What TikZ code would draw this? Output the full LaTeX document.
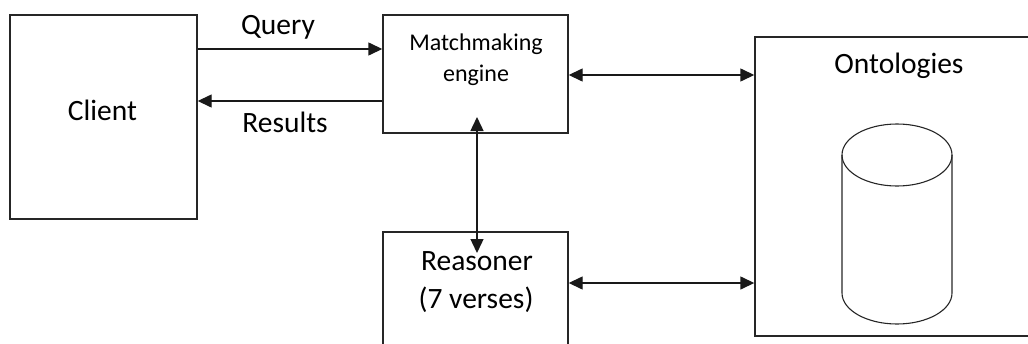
\documentclass[tikz,border=0pt]{standalone}
\usepackage{fontspec}
\setmainfont{Carlito}
\usetikzlibrary{arrows.meta}
\begin{document}
\begin{tikzpicture}[x=1pt,y=-1pt,
  box/.style={draw=black!85,line width=1.4pt,rectangle,inner sep=0pt},
  lbl/.style={anchor=base,inner sep=0pt,font=\fontsize{29.5}{30}\selectfont},
  small/.style={anchor=base,inner sep=0pt,font=\fontsize{24}{25}\selectfont},
  conn/.style={line width=1.4pt,draw=black!90,-{Triangle[length=14pt,width=13pt]}},
  conn2/.style={line width=1.4pt,draw=black!90,{Triangle[length=14pt,width=13pt]}-{Triangle[length=14pt,width=13pt]}}]
\useasboundingbox (0,0) rectangle (1028,343);
\clip (0,0) rectangle (1028,343);
% boxes
\node[box,minimum width=187pt,minimum height=204pt] (client) at (103.5,117) {};
\node[box,minimum width=185pt,minimum height=118pt] (match) at (475.5,74) {};
\node[box,minimum width=290pt,minimum height=299pt] (onto) at (900,186.5) {};
\node[box,minimum width=185pt,minimum height=130pt] (reason) at (475.5,297) {};
% texts
\node[lbl] (clientt) at (102.5,120) {Client};
\node[lbl] (query) at (278,34) {Query};
\node[lbl] (results) at (285,132) {Results};
\node[small] (mm1) at (476,50) {Matchmaking};
\node[small] (mm2) at (476,81) {engine};
\node[lbl] (ontot) at (899,73) {Ontologies};
\node[lbl] (re1) at (477,270) {Reasoner};
\node[lbl] (re2) at (476,308) {(7 verses)};
% cylinder
\draw[line width=1.1pt,draw=black!85]
  (842,155) -- (842,293) arc[start angle=180,end angle=360,x radius=55pt,y radius=31pt] -- (952,155);
\draw[line width=1.1pt,draw=black!85] (897,155) ellipse[x radius=55pt,y radius=31pt];
% helper coordinates
\coordinate (qy) at (0,49);
\coordinate (ry) at (0,101);
\coordinate (m2o) at (0,75);
\coordinate (r2o) at (0,283);
\coordinate (vtop) at (477,117);
\coordinate (vbot) at (477,253);
% connectors
\draw[conn] (client.east |- qy) -- (match.west |- qy);
\draw[conn] (match.west |- ry) -- (client.east |- ry);
\draw[conn2] (match.east |- m2o) -- (onto.west |- m2o);
\draw[conn2] (reason.east |- r2o) -- (onto.west |- r2o);
\draw[conn2] (vtop) -- (vbot);
\end{tikzpicture}
\end{document}
